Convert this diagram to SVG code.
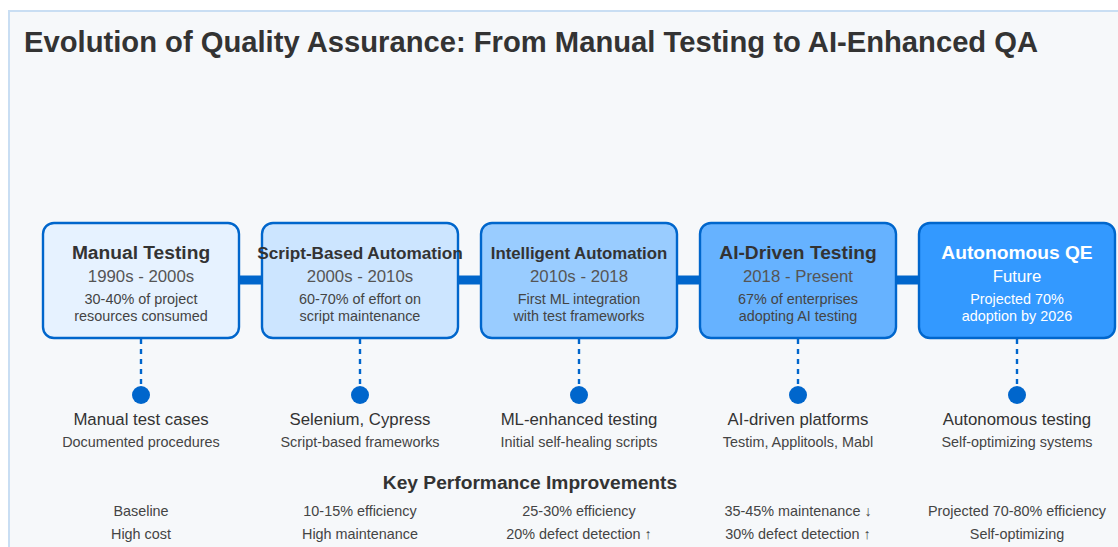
<svg xmlns="http://www.w3.org/2000/svg" width="1118" height="547" viewBox="0 0 1118 547">
  <style>
    text { font-family: "Liberation Sans", Arial, sans-serif; text-anchor: middle; }
    .title { font-size: 29.2px; font-weight: bold; fill: #333333; text-anchor: start; }
    .box { stroke: #0066cc; stroke-width: 2.4; }
    .ntitle { font-size: 19.2px; font-weight: bold; fill: #333333; }
    .period { font-size: 16.8px; fill: #555555; }
    .desc { font-size: 14.4px; fill: #444444; }
    .light .ntitle, .light .period, .light .desc { fill: #ffffff; }
    .stem { stroke: #0066cc; stroke-width: 2.4; stroke-dasharray: 5 5; fill: none; }
    .dot { fill: #0066cc; }
    .label { font-size: 16.8px; fill: #333333; }
    .sublabel { font-size: 14.4px; fill: #444444; }
    .kpi-head { font-size: 19.2px; font-weight: bold; fill: #333333; }
    .kpi { font-size: 14.4px; fill: #444444; }
  </style>

  <!-- page + panel -->
  <rect x="0" y="0" width="1118" height="547" fill="#ffffff"/>
  <rect x="9" y="11" width="1130" height="560" fill="#f6f8fa" stroke="#c9def3" stroke-width="2"/>

  <text class="title" x="24" y="52">Evolution of Quality Assurance: From Manual Testing to AI-Enhanced QA</text>

  <!-- connectors -->
  <g id="connectors">
    <line x1="141" y1="280" x2="1017" y2="280" stroke="#0066cc" stroke-width="9"/>
    <line class="stem" x1="141" y1="339" x2="141" y2="387"/>
    <line class="stem" x1="360" y1="339" x2="360" y2="387"/>
    <line class="stem" x1="579" y1="339" x2="579" y2="387"/>
    <line class="stem" x1="798" y1="339" x2="798" y2="387"/>
    <line class="stem" x1="1017" y1="339" x2="1017" y2="387"/>
  </g>

  <!-- era nodes -->
  <g id="node-manual">
    <rect class="box" x="43" y="223" width="196" height="115" rx="11" fill="#e6f2ff"/>
    <text class="ntitle" x="141" y="258.5">Manual Testing</text>
    <text class="period" x="141" y="281.5">1990s - 2000s</text>
    <text class="desc" x="141" y="304">30-40% of project</text>
    <text class="desc" x="141" y="321">resources consumed</text>
  </g>
  <g id="node-script">
    <rect class="box" x="262" y="223" width="196" height="115" rx="11" fill="#cce5ff"/>
    <text class="ntitle" x="360" y="258.5" style="font-size:17.2px">Script-Based Automation</text>
    <text class="period" x="360" y="281.5">2000s - 2010s</text>
    <text class="desc" x="360" y="304">60-70% of effort on</text>
    <text class="desc" x="360" y="321">script maintenance</text>
  </g>
  <g id="node-intelligent">
    <rect class="box" x="481" y="223" width="196" height="115" rx="11" fill="#99ccff"/>
    <text class="ntitle" x="579" y="258.5" style="font-size:16.8px">Intelligent Automation</text>
    <text class="period" x="579" y="281.5">2010s - 2018</text>
    <text class="desc" x="579" y="304">First ML integration</text>
    <text class="desc" x="579" y="321">with test frameworks</text>
  </g>
  <g id="node-ai">
    <rect class="box" x="700" y="223" width="196" height="115" rx="11" fill="#66b2ff"/>
    <text class="ntitle" x="798" y="258.5">AI-Driven Testing</text>
    <text class="period" x="798" y="281.5">2018 - Present</text>
    <text class="desc" x="798" y="304">67% of enterprises</text>
    <text class="desc" x="798" y="321">adopting AI testing</text>
  </g>
  <g id="node-autonomous" class="light">
    <rect class="box" x="919" y="223" width="196" height="115" rx="11" fill="#3399ff"/>
    <text class="ntitle" x="1017" y="258.5">Autonomous QE</text>
    <text class="period" x="1017" y="281.5">Future</text>
    <text class="desc" x="1017" y="304">Projected 70%</text>
    <text class="desc" x="1017" y="321">adoption by 2026</text>
  </g>

  <!-- milestone markers -->
  <g id="milestone-manual">
    <circle class="dot" cx="141" cy="395" r="9"/>
    <text class="label" x="141" y="424.5">Manual test cases</text>
    <text class="sublabel" x="141" y="447">Documented procedures</text>
  </g>
  <g id="milestone-script">
    <circle class="dot" cx="360" cy="395" r="9"/>
    <text class="label" x="360" y="424.5">Selenium, Cypress</text>
    <text class="sublabel" x="360" y="447">Script-based frameworks</text>
  </g>
  <g id="milestone-intelligent">
    <circle class="dot" cx="579" cy="395" r="9"/>
    <text class="label" x="579" y="424.5">ML-enhanced testing</text>
    <text class="sublabel" x="579" y="447">Initial self-healing scripts</text>
  </g>
  <g id="milestone-ai">
    <circle class="dot" cx="798" cy="395" r="9"/>
    <text class="label" x="798" y="424.5">AI-driven platforms</text>
    <text class="sublabel" x="798" y="447">Testim, Applitools, Mabl</text>
  </g>
  <g id="milestone-autonomous">
    <circle class="dot" cx="1017" cy="395" r="9"/>
    <text class="label" x="1017" y="424.5">Autonomous testing</text>
    <text class="sublabel" x="1017" y="447">Self-optimizing systems</text>
  </g>

  <!-- performance summary -->
  <g id="kpi">
    <text class="kpi-head" x="530" y="489">Key Performance Improvements</text>
    <text class="kpi" x="141" y="515.5">Baseline</text>
    <text class="kpi" x="141" y="538.5">High cost</text>
    <text class="kpi" x="360" y="515.5">10-15% efficiency</text>
    <text class="kpi" x="360" y="538.5">High maintenance</text>
    <text class="kpi" x="579" y="515.5">25-30% efficiency</text>
    <text class="kpi" x="579" y="538.5">20% defect detection ↑</text>
    <text class="kpi" x="798" y="515.5">35-45% maintenance ↓</text>
    <text class="kpi" x="798" y="538.5">30% defect detection ↑</text>
    <text class="kpi" x="1017" y="515.5">Projected 70-80% efficiency</text>
    <text class="kpi" x="1017" y="538.5">Self-optimizing</text>
  </g>
</svg>
